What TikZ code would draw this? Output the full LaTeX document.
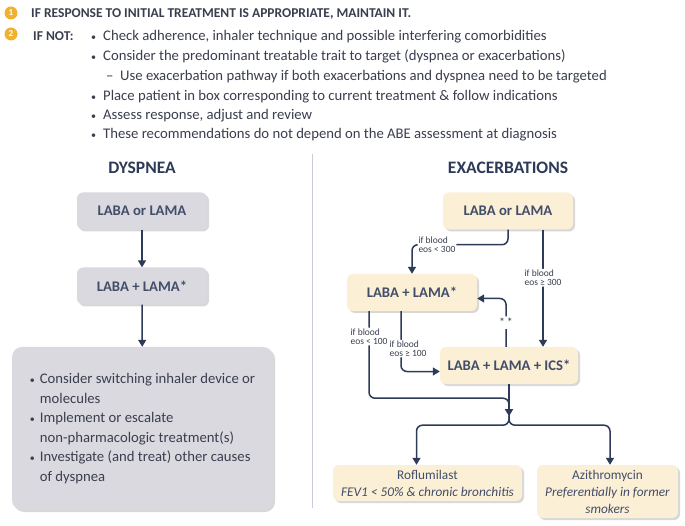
\documentclass[tikz,border=0pt]{standalone}
\usepackage{fontspec}
\setmainfont{Carlito}
\usetikzlibrary{arrows.meta,shadows}
\definecolor{navy}{HTML}{2D3A58}
\definecolor{txtgray}{HTML}{3A3E4E}
\definecolor{gold}{HTML}{EFB12E}
\definecolor{boxgray}{HTML}{DAD9DF}
\definecolor{boxcream}{HTML}{FBEFD6}
\definecolor{sepline}{HTML}{C9CCD8}
\newcommand{\dotmark}{{\fontsize{10}{10}\selectfont\textbullet}}
\tikzset{
  numdot/.style={circle,fill=gold,text=white,font=\bfseries\fontsize{9}{9}\selectfont,minimum size=13pt,inner sep=0pt},
  drugbox/.style={rounded corners=6pt,minimum width=130pt,minimum height=37pt,inner sep=2pt,
    text=navy!90,font=\bfseries\fontsize{14.7}{16}\selectfont,
    drop shadow={shadow xshift=2pt,shadow yshift=-2pt,opacity=0.3}},
  dysbox/.style={drugbox,fill=boxgray},
  exabox/.style={drugbox,fill=boxcream},
  addbox/.style={exabox,align=center,font=\fontsize{13.3}{17}\selectfont},
  flowline/.style={navy,line width=1.5pt,rounded corners=6pt},
  flow/.style={flowline,-{Triangle[length=7pt,width=8pt]}},
  eoslabel/.style={fill=white,inner sep=1pt,align=left,text=txtgray,font=\fontsize{9.5}{9}\selectfont},
  title/.style={text=navy,font=\bfseries\fontsize{17.5}{19}\selectfont},
  note/.style={anchor=base west,inner sep=0pt,text=txtgray,font=\fontsize{14.7}{16}\selectfont},
}
\begin{document}
\begin{tikzpicture}[x=1pt,y=-1pt]
\fill[white] (0,0) rectangle (685,526);
\useasboundingbox (0,0) rectangle (685,526);

    %Indicaciones
    \node[numdot] (one) at (11,13) {1};
    \node[note,font=\bfseries\fontsize{13.5}{15}\selectfont] (keep) at (31,17.5) {IF RESPONSE TO INITIAL TREATMENT IS APPROPRIATE, MAINTAIN IT.};
    \node[numdot] (two) at (11,34) {2};
    \node[note,font=\bfseries\fontsize{13.5}{15}\selectfont] (ifnot) at (33,41) {IF NOT:};
    \foreach \y/\x/\w/\m/\t [count=\i] in {
        41/91/12/\dotmark/{Check adherence, inhaler technique and possible interfering comorbidities},
        61/91/12/\dotmark/{Consider the predominant treatable trait to target (dyspnea or exacerbations)},
        81/106/14/--/{Use exacerbation pathway if both exacerbations and dyspnea need to be targeted},
        101/91/12/\dotmark/{Place patient in box corresponding to current treatment \& follow indications},
        120/91/12/\dotmark/{Assess response, adjust and review},
        139/91/12/\dotmark/{These recommendations do not depend on the ABE assessment at diagnosis}}{
        \node[note] (rule\i) at (\x,\y) {\makebox[\w pt][l]{\m}\t};
    }

    %Separador
    \draw[sepline,line width=1pt] (312,154) -- (312,508);

    %Disnea
    \node[title] (dystitle) at (142,168) {DYSPNEA};
    \node[dysbox] (dys1) at (142,211) {LABA or LAMA};
    \node[dysbox] (dys2) at (142,286) {LABA + LAMA*};
    \node[dysbox,minimum width=261pt,minimum height=163pt,rounded corners=10pt,
        font=\fontsize{14.7}{19.5}\selectfont,text=txtgray] (dys3) at (142.5,428.5) {%
        \begin{tabular}{@{}l@{}l@{}}
        \makebox[10pt][l]{\dotmark} & Consider switching inhaler device or\\
         & molecules\\
        \makebox[10pt][l]{\dotmark} & Implement or escalate\\
         & non-pharmacologic treatment(s)\\
        \makebox[10pt][l]{\dotmark} & Investigate (and treat) other causes\\
         & of dyspnea
        \end{tabular}};
    \draw[flow] (dys1) -- (dys2);
    \draw[flow] (dys2) -- (dys3);

    %Exacerbaciones
    \node[title] (exatitle) at (508,168) {EXACERBATIONS};
    \node[exabox] (exa1) at (508,211) {LABA or LAMA};
    \node[exabox] (exa2) at (412,292.5) {LABA + LAMA*};
    \node[exabox,minimum width=138pt] (exa3) at (509,365.5) {LABA + LAMA + ICS*};
    \node[addbox,minimum width=189pt,minimum height=36pt] (rofl) at (427.5,483)
        {Roflumilast\\\textit{FEV1 < 50\% \& chronic bronchitis}};
    \node[addbox,minimum width=141pt,minimum height=53pt] (azi) at (607.5,491.5)
        {Azithromycin\\\textit{Preferentially in former}\\\textit{smokers}};

    \coordinate (eosR) at ([xshift=35pt]exa1.south);
    \coordinate (back) at ([xshift=-3pt]exa3.north);
    \coordinate (backin) at ([yshift=-6pt]exa2.east);
    \coordinate (lowA) at ([xshift=-43pt]exa2.south);
    \coordinate (lowB) at ([xshift=-11pt]exa2.south);
    \coordinate (upin) at ([yshift=-6pt]exa3.west);
    \coordinate (bend) at ([yshift=-14pt]exa3.south);
    \coordinate (merge) at ([yshift=-32pt]exa3.south);
    \coordinate (split) at ([yshift=-41pt]exa3.south);
    \coordinate (roflin) at ([xshift=-11pt]rofl.north);
    \coordinate (aziin) at ([xshift=2.5pt]azi.north);

    \draw[flow] (exa1.south) -- ++(0,15) -| node[eoslabel,pos=0.37] (eos300) {if blood\\eos < 300} (exa2.north);
    \draw[flow] (eosR) -- node[eoslabel,pos=0.41] (eos300b) {if blood\\eos ≥ 300} (eosR |- exa3.north);
    \draw[flow] (back) |- node[eoslabel,pos=0.25,inner sep=2pt,font=\fontsize{12}{12}\selectfont] (stars) {*\,*} (backin);
    \draw[flow] (lowB) |- node[eoslabel,pos=0.31,xshift=7pt] (eos100b) {if blood\\eos ≥ 100} (upin);
    \draw[flowline] (lowA) |- node[eoslabel,pos=0.145] (eos100) {if blood\\eos < 100} (bend) -- (merge);
    \draw[flow] (exa3.south) -- (merge);
    \draw[flow] (merge) -- (split) -| (roflin);
    \draw[flow] (merge) -- (split) -| (aziin);
\end{tikzpicture}
\end{document}
